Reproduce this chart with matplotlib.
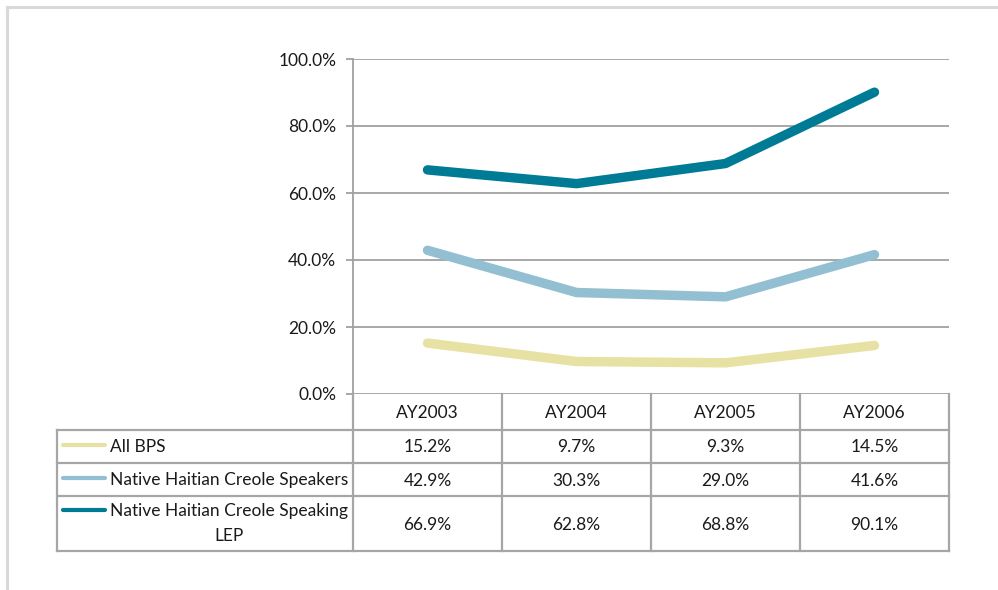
import matplotlib
matplotlib.use("Agg")
import matplotlib.pyplot as plt
from matplotlib.ticker import PercentFormatter, FixedLocator

plt.rcParams['font.family'] = ['Lato', 'DejaVu Sans']

years = ['AY2003', 'AY2004', 'AY2005', 'AY2006']
series_names = ['All BPS', 'Native Haitian Creole Speakers',
                'Native Haitian Creole Speaking\nLEP']
all_bps = [15.2, 9.7, 9.3, 14.5]
speakers = [42.9, 30.3, 29.0, 41.6]
lep = [66.9, 62.8, 68.8, 90.1]
colors = ['#E8E1A4', '#92BFD1', '#007B96']

W, H = 998, 590
fig = plt.figure(figsize=(W / 100, H / 100), dpi=100)

# plot area in pixels
px0, px1, py0, py1 = 353, 949, 59, 394
ax = fig.add_axes([px0 / W, 1 - py1 / H, (px1 - px0) / W, (py1 - py0) / H])
ax.set_xlim(-0.5, 3.5)
ax.set_ylim(0, 100)
for vals, c in zip([all_bps, speakers, lep], colors):
    ax.plot(range(len(years)), vals, color=c, lw=6.8, solid_capstyle='round',
            solid_joinstyle='round', zorder=3)
ax.yaxis.set_major_locator(FixedLocator([0, 20, 40, 60, 80, 100]))
ax.yaxis.set_major_formatter(PercentFormatter(decimals=1))
ax.grid(axis='y', color='#A0A0A0', lw=1.3)
ax.set_xticks([])
for s in ['top', 'right', 'bottom']:
    ax.spines[s].set_visible(False)
ax.spines['left'].set_color('#A0A0A0')
ax.spines['left'].set_linewidth(1.3)
ax.tick_params(axis='y', length=5, width=1.3, color='#A0A0A0', labelsize=12.5,
               pad=7, labelcolor='#1a1a1a')
ax.set_axisbelow(True)

# overlay in pixel coords for the data table
ov = fig.add_axes([0, 0, 1, 1])
ov.set_xlim(0, W)
ov.set_ylim(H, 0)
ov.axis('off')

gc = '#A6A6A6'
lw = 1.6
tx0 = 57
rows = [394, 430, 463, 496, 551]
colw = (px1 - px0) / len(years)
cols = [px0 + i * colw for i in range(len(years) + 1)]

# horizontal lines
for y in rows[1:]:
    ov.plot([tx0, px1], [y, y], color=gc, lw=lw)
# vertical lines
for x in cols:
    ov.plot([x, x], [rows[0], rows[-1]], color=gc, lw=lw)
ov.plot([tx0, tx0], [rows[1], rows[-1]], color=gc, lw=lw)

fs = 12.5
for i, yr in enumerate(years):
    ov.text(cols[i] + colw / 2, (rows[0] + rows[1]) / 2 + 1, yr,
            ha='center', va='center', fontsize=fs, color='#1a1a1a')

for r, (name, vals, c) in enumerate(zip(series_names, [all_bps, speakers, lep], colors)):
    yc = (rows[r + 1] + rows[r + 2]) / 2 + 1
    for i, v in enumerate(vals):
        ov.text(cols[i] + colw / 2, yc, f'{v:.1f}%', ha='center', va='center',
                fontsize=fs, color='#1a1a1a')
    if '\n' in name:
        first, second = name.split('\n')
        ly = rows[r + 1] + 14
        ov.plot([63, 105], [ly, ly], color=c, lw=3, solid_capstyle='round')
        ov.text(110, ly + 1, first, ha='left', va='center', fontsize=fs, color='#1a1a1a')
        ov.text(229, ly + 26, second, ha='center', va='center', fontsize=fs,
                color='#1a1a1a')
    else:
        ov.plot([63, 105], [yc - 3, yc - 3], color=c, lw=3, solid_capstyle='round')
        ov.text(110, yc, name, ha='left', va='center', fontsize=fs, color='#1a1a1a')

# outer chart border (only top and left visible)
ov.plot([7, W], [7, 7], color='#D9D9D9', lw=2.2)
ov.plot([7, 7], [7, H], color='#D9D9D9', lw=2.2)

fig.savefig('out.png', dpi=100)
